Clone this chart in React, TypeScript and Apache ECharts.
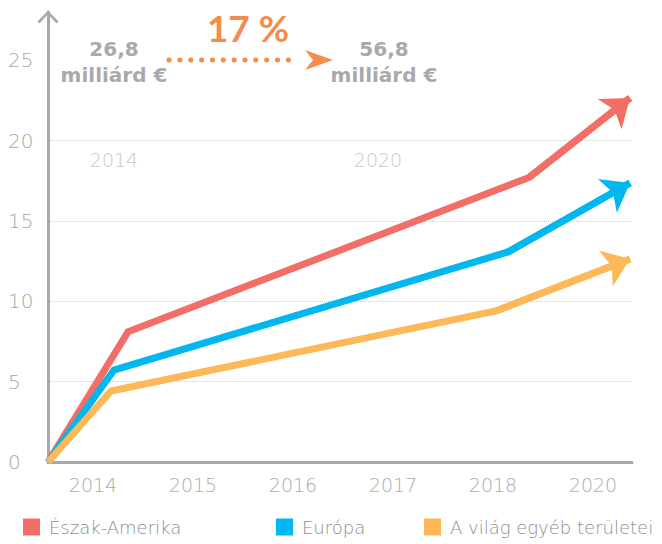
import React, { useEffect, useRef } from "react";
import * as echarts from "echarts";

const years = ["2014", "2015", "2016", "2017", "2018", "2020"];
const seriesNames = ["Észak-Amerika", "Európa", "A világ egyéb területei"];
const northAmericaX = [-0.5, 0.3, 4.31, 5.32];
const northAmericaY = [0, 8.1, 17.7, 22.65];
const europeX = [-0.5, 0.16, 4.1, 5.32];
const europeY = [0, 5.72, 13.07, 17.36];
const restX = [-0.5, 0.13, 3.98, 5.32];
const restY = [0, 4.42, 9.4, 12.63];
const startLabel = "26,8\nmilliárd €";
const endLabel = "56,8\nmilliárd €";
const growthLabel = "17 %";
const startYear = "2014";
const endYear = "2020";

const colors = ["#f26e66", "#00b7f0", "#fdb857"];
const FONT = "Lato";
const WIDE = "DejaVu Sans";

function pts(xs: number[], ys: number[]) {
  return xs.map((x, i) => [x, ys[i]]);
}

function makeSeries(name: string, xs: number[], ys: number[], color: string) {
  const data = pts(xs, ys);
  const n = data.length;
  return {
    name,
    type: "line",
    xAxisIndex: 1,
    yAxisIndex: 1,
    data,
    showSymbol: false,
    symbol: "none",
    clip: false,
    itemStyle: { color },
    lineStyle: { color, width: 7, join: "miter" },
    markLine: {
      silent: true,
      symbol: ["none", "arrow"],
      symbolSize: [29, 26],
      label: { show: false },
      lineStyle: { color, width: 7, type: "solid" },
      emphasis: { disabled: true },
      data: [[{ coord: data[n - 2] }, { coord: data[n - 1] }]],
    },
  };
}

export default function App() {
  const ref = useRef<HTMLDivElement>(null);
  useEffect(() => {
    if (!ref.current) return;
    const chart = echarts.init(ref.current, null, { renderer: "svg" });
    const grid = "#c9cbcd";
    const legendBase = {
      bottom: 3,
      icon: "rect",
      itemWidth: 17,
      itemHeight: 17,
      itemGap: 0,
      selectedMode: false,
      textStyle: { fontFamily: WIDE, fontWeight: 200, fontSize: 18, color: "#86909a", padding: [0, 0, 0, 4] },
    };
    chart.setOption({
      animation: false,
      textStyle: { fontFamily: WIDE },
      grid: [
        { left: 43, width: 600, top: 12, bottom: 82 },
        { left: 48, width: 584, top: 12, bottom: 82 },
      ],
      xAxis: [
        {
          type: "category",
          gridIndex: 0,
          data: years,
          boundaryGap: true,
          axisLine: { show: false },
          axisTick: { show: false },
          axisLabel: { color: "#a9abae", fontSize: 19, fontWeight: 200, margin: 13, fontFamily: WIDE },
        },
        {
          type: "value",
          gridIndex: 1,
          min: -0.5,
          max: 5.34,
          axisLine: { show: true, onZero: false, lineStyle: { color: "#a7a9ac", width: 3 } },
          axisTick: { show: false },
          axisLabel: { show: false },
          splitLine: { show: false },
        },
      ],
      yAxis: [
        {
          type: "value",
          gridIndex: 0,
          min: 0,
          max: 28,
          show: false,
          splitLine: { show: false },
        },
        {
          type: "value",
          gridIndex: 1,
          min: 0,
          max: 28,
          interval: 5,
          axisLine: {
            show: true,
            onZero: false,
            lineStyle: { color: "#a7a9ac", width: 3 },
            symbol: ["none", "path://M0,11 L10.5,0 L21,11 L19,13 L10.5,3.5 L2,13 Z"],
            symbolSize: [21, 13],
            symbolOffset: [0, -5],
          },
          axisTick: { show: false },
          axisLabel: {
            color: "#a3a5a8",
            fontSize: 20,
            fontWeight: 200,
            fontFamily: WIDE,
            align: "left",
            margin: 40,
            formatter: (v: number) => (v % 5 === 0 ? String(v) : ""),
          },
          splitLine: {
            show: true,
            showMaxLine: false,
            lineStyle: {
              type: "dotted",
              width: 1,
              color: [grid, grid, grid, grid, grid, "rgba(0,0,0,0)", "rgba(0,0,0,0)"],
            },
          },
        },
      ],
      legend: [
        { ...legendBase, left: 18, data: [seriesNames[0]] },
        { ...legendBase, left: 271, data: [seriesNames[1]] },
        { ...legendBase, left: 419, data: [seriesNames[2]] },
      ],
      series: [
        makeSeries(seriesNames[0], northAmericaX, northAmericaY, colors[0]),
        makeSeries(seriesNames[1], europeX, europeY, colors[1]),
        makeSeries(seriesNames[2], restX, restY, colors[2]),
      ],
      graphic: [
        {
          type: "text",
          x: 248,
          y: 27,
          style: {
            text: growthLabel,
            fill: "#f58b4c",
            font: `bold 37px ${FONT}`,
            align: "center",
            verticalAlign: "middle",
          },
        },
        {
          type: "text",
          x: 114,
          y: 62,
          style: {
            text: startLabel,
            fill: "#a7a9ac",
            font: `bold 20px "${WIDE}"`,
            lineHeight: 26,
            align: "center",
            verticalAlign: "middle",
          },
        },
        {
          type: "text",
          x: 384,
          y: 62,
          style: {
            text: endLabel,
            fill: "#a7a9ac",
            font: `bold 20px "${WIDE}"`,
            lineHeight: 26,
            align: "center",
            verticalAlign: "middle",
          },
        },
        {
          type: "line",
          shape: { x1: 169, y1: 60, x2: 298, y2: 60 },
          style: { stroke: "#f58b4c", lineWidth: 5, lineDash: [0.1, 10.75], lineCap: "round" },
        },
        {
          type: "polygon",
          shape: { points: [[305, 50], [333, 60], [305, 70], [313, 60]] },
          style: { fill: "#f58b4c" },
        },
        {
          type: "text",
          x: 114,
          y: 160,
          style: {
            text: startYear,
            fill: "#c6c8ca",
            font: `200 19px "${WIDE}"`,
            align: "center",
            verticalAlign: "middle",
          },
        },
        {
          type: "text",
          x: 378,
          y: 160,
          style: {
            text: endYear,
            fill: "#c6c8ca",
            font: `200 19px "${WIDE}"`,
            align: "center",
            verticalAlign: "middle",
          },
        },
      ],
    });
    return () => chart.dispose();
  }, []);
  return (
    <div
      ref={ref}
      style={{ position: "fixed", left: 0, top: 0, width: 662, height: 544, background: "#fff" }}
    />
  );
}
